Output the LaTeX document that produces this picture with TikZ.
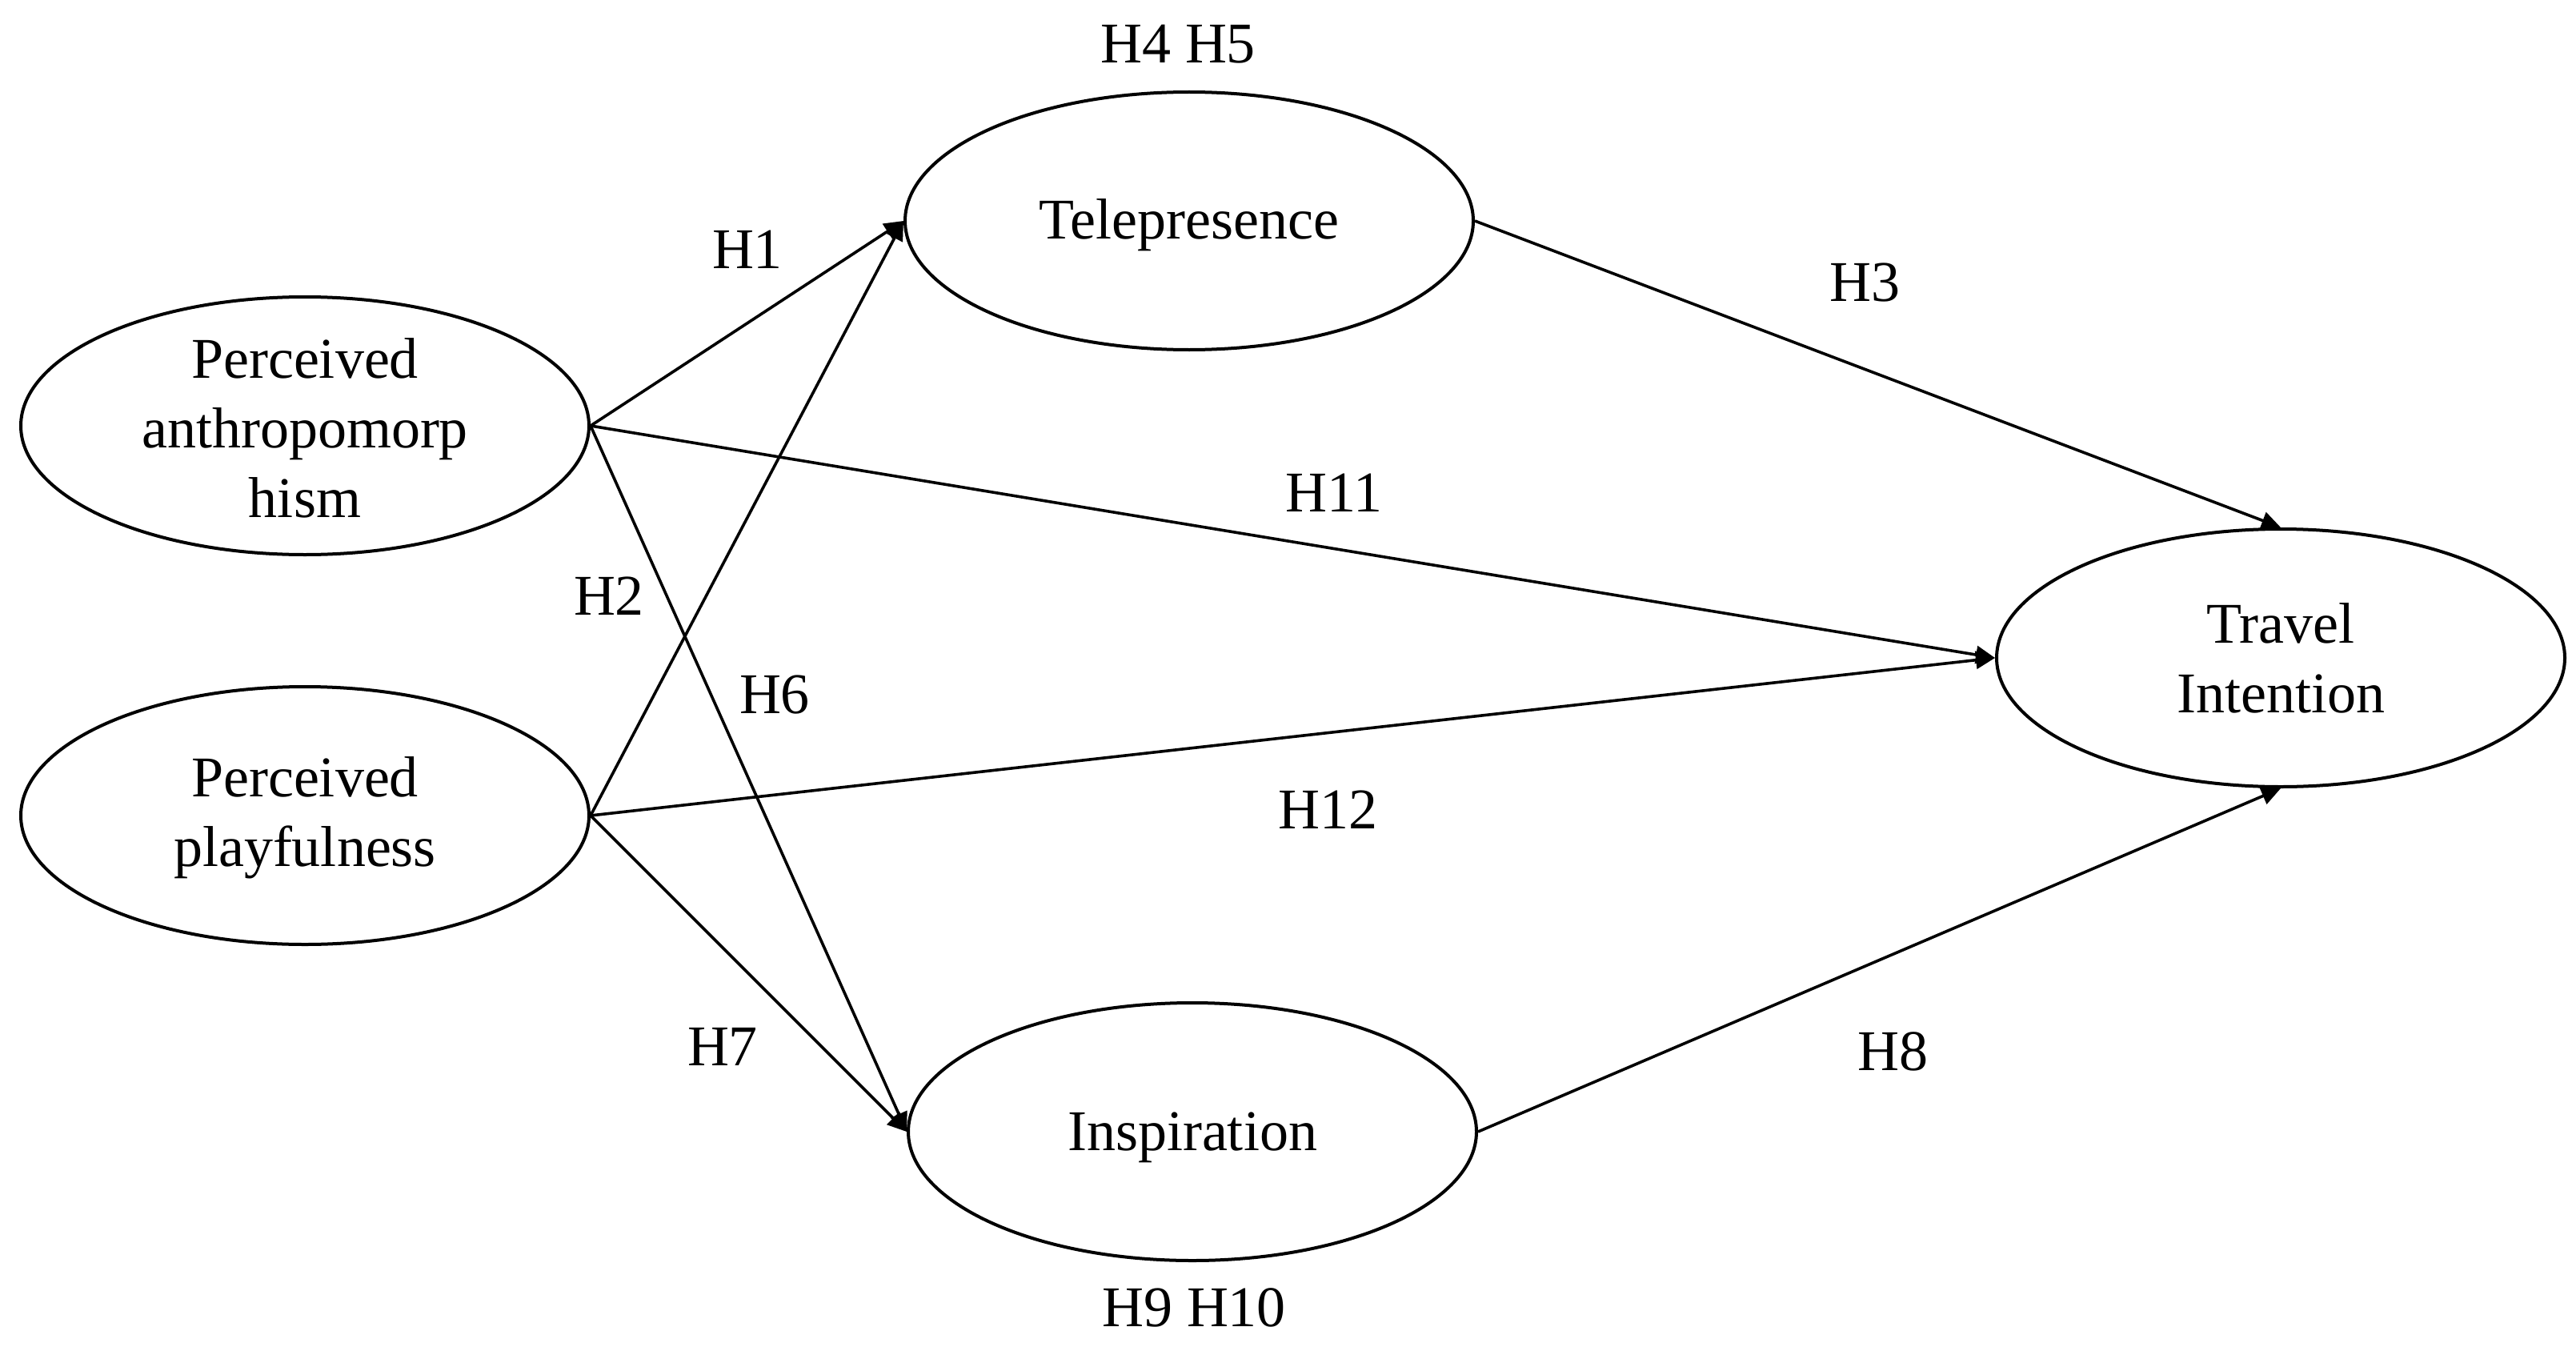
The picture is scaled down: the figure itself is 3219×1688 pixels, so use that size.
\documentclass[tikz,border=0pt]{standalone}
\usepackage{fontspec}
\setmainfont{Liberation Serif}
\usetikzlibrary{shapes.geometric,arrows.meta}
\begin{document}
\begin{tikzpicture}[x=1pt,y=-1pt,
  construct/.style={draw=black, line width=4pt, ellipse, minimum width=710pt, minimum height=322pt, inner sep=0pt},
  ctext/.style={align=center, font=\fontsize{72}{87}\selectfont, inner sep=0pt},
  hyp/.style={font=\fontsize{72}{87}\selectfont, inner sep=0pt},
  link/.style={line width=3.6pt, -{Triangle[length=24pt,width=22pt]}}
]
\useasboundingbox (0,0) rectangle (3219,1688);
\fill[white] (0,0) rectangle (3219,1688);

% constructs
\node[construct] (anth) at (381,532) {};
\node[ctext] (anthtext) at (381,535) {Perceived\\anthropomorp\\hism};
\node[construct] (play) at (381,1019) {};
\node[ctext] (playtext) at (381,1022) {Perceived\\playfulness};
\node[construct] (tele) at (1486,276) {};
\node[ctext] (teletext) at (1486,281) {Telepresence};
\node[construct] (insp) at (1490,1414) {};
\node[ctext] (insptext) at (1490,1421) {Inspiration};
\node[construct] (trav) at (2850,822) {};
\node[ctext] (travtext) at (2850,822) {Travel\\Intention};

% connectors
\draw[link] (anth.east) -- (tele.west);
\draw[link] (play.east) -- (tele.west);
\draw[link] (anth.east) -- (insp.west);
\draw[link] (play.east) -- (insp.west);
\draw[link] (anth.east) -- (trav.west);
\draw[link] (play.east) -- (trav.west);
\draw[link] (tele.east) -- (trav.north);
\draw[link] (insp.east) -- (trav.south);

% hypothesis labels
\node[hyp] (h45) at (1472,55) {H4 H5};
\node[hyp] (h910) at (1492,1634) {H9 H10};
\node[hyp] (h1) at (934,312) {H1};
\node[hyp] (h3) at (2330,353) {H3};
\node[hyp] (h11) at (1667,616) {H11};
\node[hyp] (h2) at (761,745) {H2};
\node[hyp] (h6) at (968,868) {H6};
\node[hyp] (h12) at (1659,1012) {H12};
\node[hyp] (h7) at (903,1308) {H7};
\node[hyp] (h8) at (2365,1314) {H8};
\end{tikzpicture}
\end{document}
